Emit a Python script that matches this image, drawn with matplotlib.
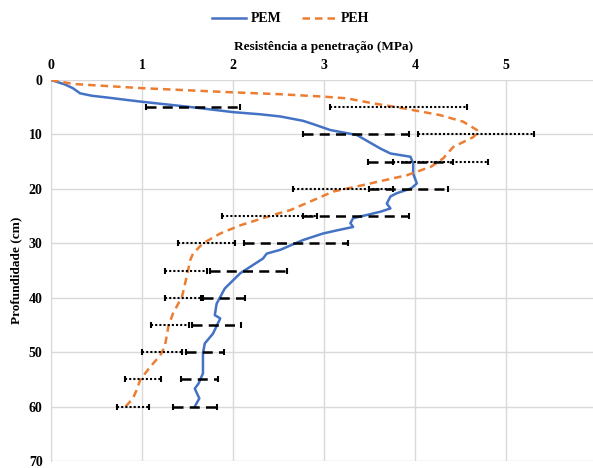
import numpy as np
import matplotlib
matplotlib.use("Agg")
import matplotlib.pyplot as plt

# PEM curve (resistance MPa, depth cm)
pem_x = [0, 0.15, 0.24, 0.32, 0.45, 0.61, 0.8, 1.0, 1.5, 2.0, 2.3, 2.52, 2.77, 2.88,
         3.07, 3.36, 3.62, 3.73, 3.95, 3.98, 3.98, 4.02, 3.96, 3.80, 3.73, 3.69,
         3.73, 3.62, 3.32, 3.29, 3.32, 3.15, 2.99, 2.77, 2.52, 2.37, 2.33, 2.08,
         1.91, 1.82, 1.80, 1.86, 1.78, 1.69, 1.67, 1.67, 1.62, 1.58, 1.63, 1.58]
pem_y = [0, 0.8, 1.5, 2.45, 2.9, 3.2, 3.6, 4.0, 4.9, 5.9, 6.3, 6.7, 7.5, 8.1,
         9.2, 10.1, 12.6, 13.5, 14.1, 15.3, 17.2, 19.0, 19.9, 20.8, 21.4, 22.7,
         23.6, 24.2, 25.4, 26.3, 27.0, 27.6, 28.2, 29.4, 31.2, 31.9, 32.8, 35.5,
         38.3, 41.1, 43.2, 43.8, 46.6, 48.4, 50.2, 53.9, 55.8, 56.7, 58.5, 60.0]

# PEH curve
peh_x = [0, 0.25, 1.0, 2.0, 2.5, 3.0, 3.25, 3.54, 3.87, 4.27, 4.53, 4.68, 4.70,
         4.64, 4.42, 4.31, 4.18, 3.91, 3.43, 3.10, 2.88, 2.63, 2.44, 2.08, 1.86,
         1.67, 1.56, 1.53, 1.49, 1.44, 1.34, 1.29, 1.25, 1.20, 1.09, 0.98, 0.94,
         0.90, 0.82]
peh_y = [0, 0.74, 1.5, 2.27, 2.6, 3.06, 3.37, 4.29, 5.2, 6.43, 7.66, 9.19, 9.5,
         10.5, 12.3, 14.4, 15.9, 17.5, 19.3, 20.5, 22.1, 23.9, 24.8, 26.7, 28.2,
         30.0, 31.9, 33.1, 36.2, 39.8, 42.9, 45.3, 49.0, 50.6, 52.7, 55.1, 57.0,
         58.5, 60.0]

# error bars
err_depth = [5, 10, 15, 20, 25, 30, 35, 40, 45, 50, 55, 60]
pem_mean = [1.56, 3.35, 3.95, 3.93, 3.35, 2.69, 2.17, 1.90, 1.82, 1.69, 1.63, 1.58]
pem_sd = [0.52, 0.58, 0.47, 0.43, 0.58, 0.57, 0.42, 0.23, 0.27, 0.21, 0.20, 0.24]
peh_mean = [3.82, 4.67, 4.28, 3.21, 2.40, 1.71, 1.48, 1.45, 1.31, 1.22, 1.01, 0.90]
peh_sd = [0.75, 0.64, 0.52, 0.55, 0.52, 0.31, 0.23, 0.20, 0.21, 0.22, 0.20, 0.18]

plt.rcParams['font.family'] = ['Liberation Serif', 'DejaVu Serif']
plt.rcParams['font.weight'] = 'bold'

fig = plt.figure(figsize=(5.93, 4.68), dpi=100)
ax = fig.add_axes([51 / 593, 7 / 468, 546 / 593, 381 / 468])

grid_c = '#d9d9d9'
ax.plot(pem_x, pem_y, color='#4472c4', lw=1.8, label='PEM', zorder=3)
ax.plot(peh_x, peh_y, color='#ed7d31', lw=1.8, ls=(0, (3, 2)), label='PEH', zorder=3)

eb1 = ax.errorbar(pem_mean, err_depth, xerr=pem_sd, fmt='none', ecolor='black',
                  elinewidth=1.8, capsize=2.5, capthick=1.5, zorder=4)
eb1[2][0].set_linestyle((0, (4, 2.5)))
eb2 = ax.errorbar(peh_mean, err_depth, xerr=peh_sd, fmt='none', ecolor='black',
                  elinewidth=1.5, capsize=2.5, capthick=1.5, zorder=4)
eb2[2][0].set_linestyle((0, (1, 1)))

ax.set_xlim(0, 6)
ax.set_ylim(70, 0)
ax.set_xticks(range(6))
ax.set_yticks(range(0, 71, 10))
ax.xaxis.tick_top()
ax.xaxis.set_label_position('top')
ax.tick_params(length=0, labelsize=10, pad=6)
ax.set_xlabel('Resistência a penetração (MPa)', fontsize=9.5, fontweight='bold', labelpad=6)
ax.set_ylabel('Profundidade (cm)', fontsize=9.5, fontweight='bold', labelpad=5)
ax.grid(True, color=grid_c, lw=1)
ax.set_axisbelow(True)
for s in ['right', 'bottom', 'top']:
    ax.spines[s].set_visible(False)
ax.spines['left'].set_color(grid_c)

fig.legend(loc='upper center', bbox_to_anchor=(0.49, 1.0), ncol=2, frameon=False,
           fontsize=10, handlelength=2.5, columnspacing=1.5, handletextpad=0.3)

fig.savefig('out.png', dpi=100)
